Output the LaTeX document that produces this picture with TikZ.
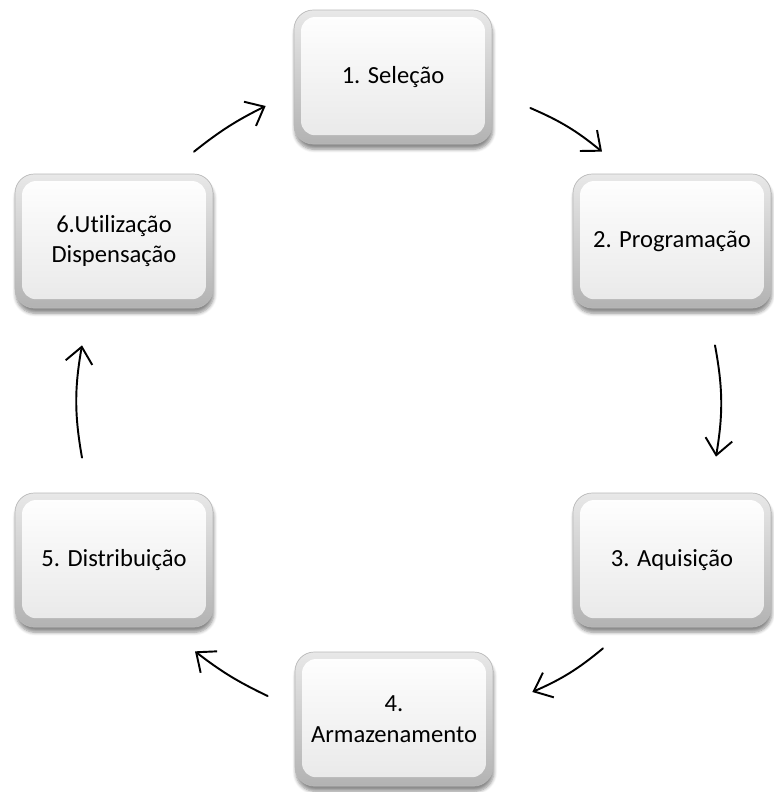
\documentclass[tikz,border=0pt]{standalone}
\usepackage{fontspec}
\setmainfont{Carlito}[Ligatures=NoCommon]
\usetikzlibrary{arrows.meta,shadows.blur}
\tikzset{
  etapa/.style={rounded corners=11pt, minimum width=3.96cm, minimum height=2.68cm,
    align=center, font=\fontsize{14}{17.5}\selectfont, draw=gray!55, line width=0.4pt,
    top color=gray!18, bottom color=gray!60,
    blur shadow={shadow xshift=0.5pt, shadow yshift=-3pt, shadow blur steps=6, shadow opacity=45},
    path picture={\shade[top color=white, bottom color=gray!18, rounded corners=8pt]
      ([shift={(4pt,5pt)}]path picture bounding box.south west) rectangle
      ([shift={(-4pt,-4pt)}]path picture bounding box.north east);}},
  fluxo/.style={-{Straight Barb[length=3.2mm,width=5.4mm,line width=1.1pt]}, line width=1.1pt, line cap=round}
}
\begin{document}
\begin{tikzpicture}
\useasboundingbox (0,0) rectangle (15.48,-15.84);
\node[etapa] (sel) at (7.86,-1.54) {1. Seleção};
\node[etapa] (prog) at (13.44,-4.82) {2. Programação};
\node[etapa] (aqui) at (13.44,-11.2) {3. Aquisição};
\node[etapa] (arm) at (7.88,-14.38) {4.\\Armazenamento};
\node[etapa] (dist) at (2.28,-11.2) {5. Distribuição};
\node[etapa] (util) at (2.28,-4.82) {6.Utilização\\Dispensação};
\draw[fluxo] ([shift={(1.6,0.44)}]util.north) to[bend left=6] ([shift={(-0.56,-0.58)}]sel.west);
\draw[fluxo] ([shift={(0.76,-0.62)}]sel.east) to[bend left=8] ([shift={(-1.4,0.44)}]prog.north);
\draw[fluxo] ([shift={(0.86,-0.74)}]prog.south) to[bend left=10] ([shift={(0.88,0.72)}]aqui.north);
\draw[fluxo] ([shift={(-1.38,-0.42)}]aqui.south) to[bend left=8] ([shift={(0.78,0.54)}]arm.east);
\draw[fluxo] ([shift={(-0.54,0.46)}]arm.west) to[bend left=6] ([shift={(1.62,-0.48)}]dist.south);
\draw[fluxo] ([shift={(-0.64,0.70)}]dist.north) to[bend left=10] ([shift={(-0.64,-0.74)}]util.south);
\end{tikzpicture}
\end{document}
